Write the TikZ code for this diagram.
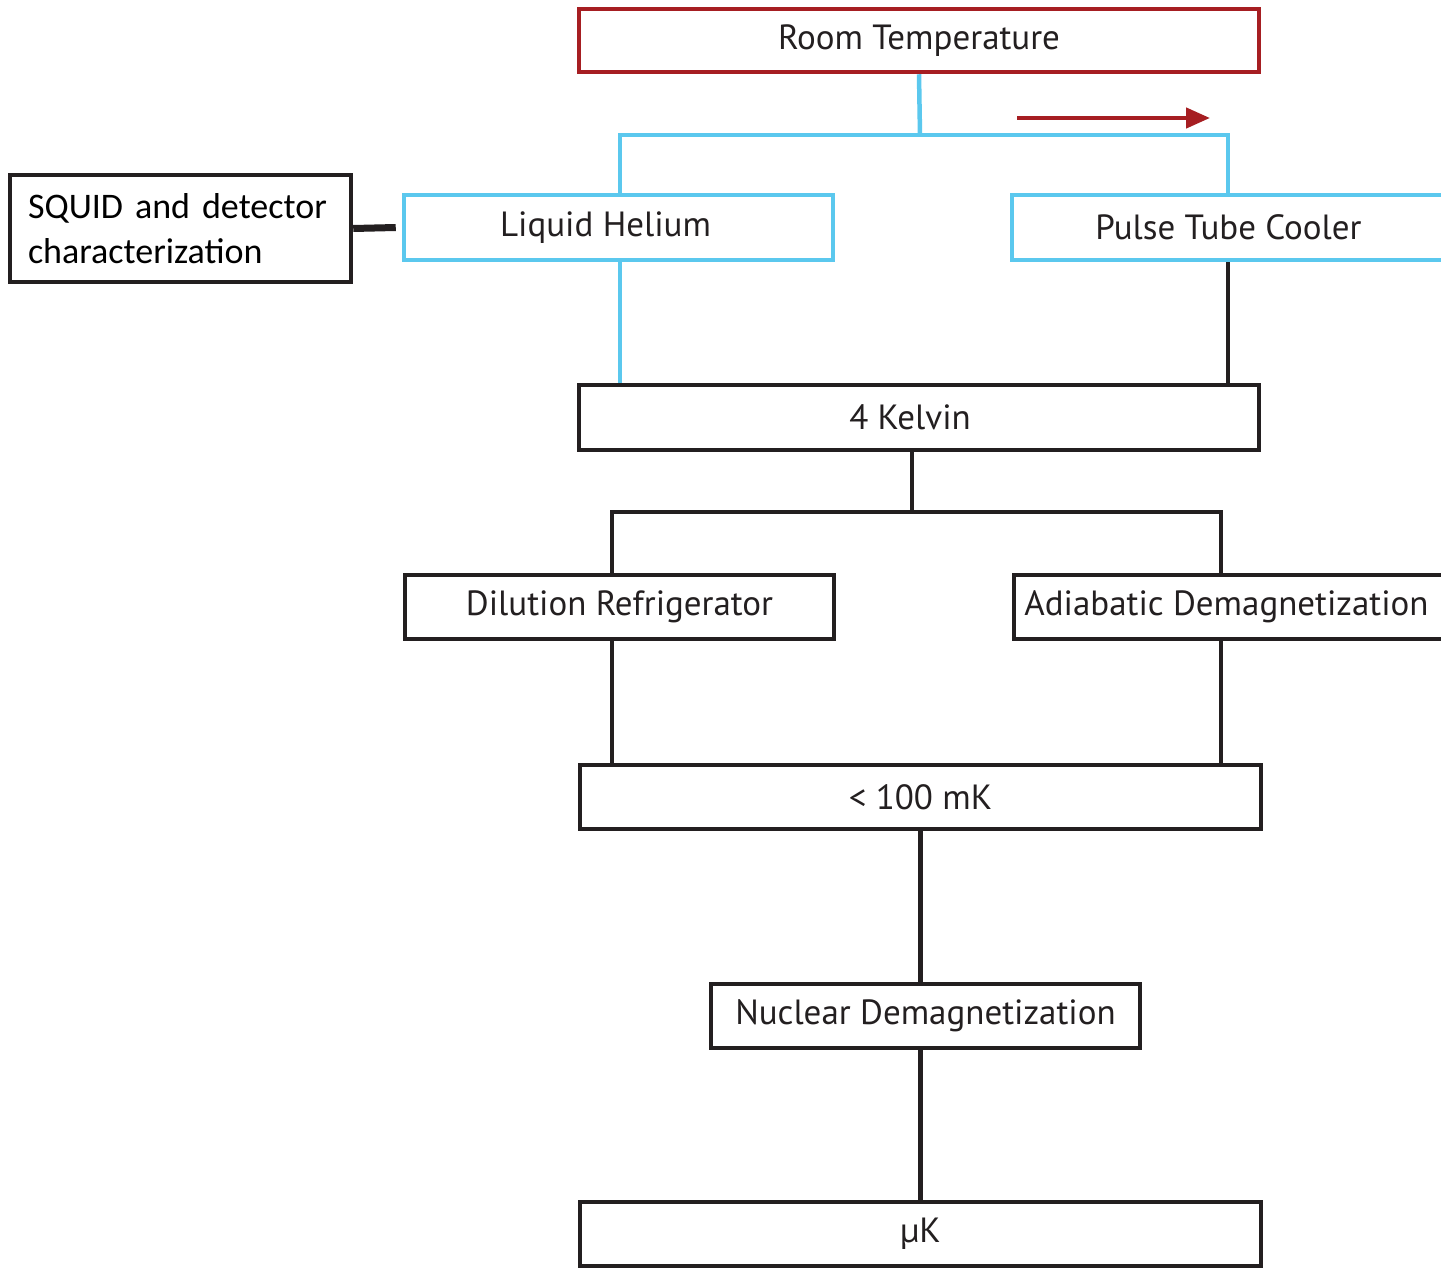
\documentclass[tikz,border=0pt]{standalone}
\usepackage{fontspec}
\setmainfont{PT Sans}
\newfontfamily\calibrifont{Carlito}
\usetikzlibrary{arrows.meta}
\definecolor{rtred}{HTML}{A61E22}
\definecolor{lhblue}{HTML}{5BC8EE}
\definecolor{ink}{HTML}{231F20}
\begin{document}
\begin{tikzpicture}[x=1pt,y=-1pt,
  box/.style={draw=ink, line width=4.5pt, rectangle, inner sep=0pt, text=ink,
    font=\fontsize{35}{40}\selectfont},
  wbox/.style={box, minimum width=429pt, minimum height=64pt},
  lbox/.style={box, minimum width=681pt, minimum height=64pt},
  redbox/.style={box, draw=rtred},
  bluebox/.style={box, draw=lhblue},
  blk/.style={draw=ink, line width=4.5pt},
  blu/.style={draw=lhblue, line width=4.5pt},
  redarrow/.style={draw=rtred, line width=4.5pt, -{Triangle[length=24pt,width=20pt]}}
]
\useasboundingbox (0,0) rectangle (1441,1268);
\fill[white] (0,0) rectangle (1441,1268);

\node[lbox, redbox, minimum width=680pt, minimum height=63pt] (room) at (919,40.5) {\raisebox{-2pt}{Room Temperature}};
\node[wbox, bluebox, minimum height=65pt] (lh) at (618.5,227.5) {Liquid Helium\rule{26pt}{0pt}};
\node[wbox, bluebox, minimum width=433pt, minimum height=65pt] (pt) at (1228.5,227.5) {Pulse Tube Cooler};
\node[box, minimum width=341pt, minimum height=107pt, text width=305pt, inner xsep=18pt, align=left,
  font=\calibrifont\fontsize{36}{45}\selectfont, text=black] (sq) at (180.5,228.5) {SQUID and detector\\characterization};
\node[lbox, minimum width=680pt, minimum height=65pt] (k4) at (919,417.5) {4 Kelvin\rule{18pt}{0pt}};
\node[wbox] (dr) at (619.5,607) {Dilution Refrigerator};
\node[wbox, minimum width=433pt] (ad) at (1230.5,607) {\raisebox{8pt}{Adiabatic Demagnetization}\rule{8pt}{0pt}};
\node[lbox] (mk) at (920.5,797) {< 100 mK};
\node[wbox] (nd) at (925.5,1016) {Nuclear Demagnetization};
\node[lbox] (uk) at (920.5,1234) {μK};

\coordinate (bj) at (920,135);
\draw[blu] (room.south) -- (bj);
\draw[blu] ([xshift=1.5]lh.north) |- (bj) -| ([xshift=-0.5]pt.north);
\draw[blu] ([xshift=1.5]lh.south) -- ([xshift=1.5]lh.south |- k4.north);
\draw[blk] ([xshift=-0.5]pt.south) -- ([xshift=-0.5]pt.south |- k4.north);
\draw[blk, line width=7pt] (sq.east) -- ([xshift=-6]lh.west);

\coordinate (a1) at (1017,118);
\coordinate (a2) at (1210,118);
\draw[redarrow] (a1) -- (a2);

\coordinate (kj) at (912,512);
\draw[blk] ([xshift=-7]k4.south) -- (kj);
\draw[blk] ([xshift=-7.5]dr.north) |- (kj) -| ([xshift=-9.5]ad.north);
\draw[blk] ([xshift=-7.5]dr.south) -- ([xshift=-7.5]dr.south |- mk.north);
\draw[blk] ([xshift=-9.5]ad.south) -- ([xshift=-9.5]ad.south |- mk.north);
\draw[blk] (mk.south) -- (mk.south |- nd.north);
\draw[blk] (mk.south |- nd.south) -- (uk.north);
\end{tikzpicture}
\end{document}
